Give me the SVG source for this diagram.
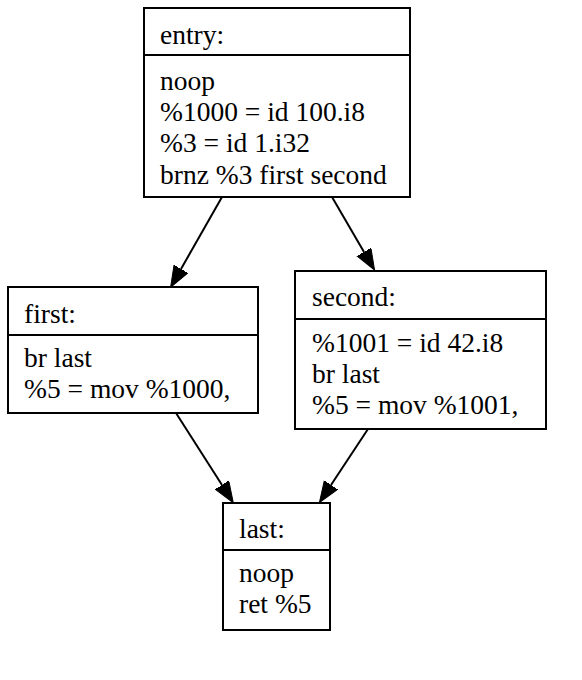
<svg xmlns="http://www.w3.org/2000/svg" width="582" height="680" viewBox="0 0 582 680">
<style>
.box{fill:#fff;stroke:#000;stroke-width:2}
.div{stroke:#000;stroke-width:2}
text{font-size:27.5px;fill:#000}
.edge{stroke:#000;stroke-width:2;fill:none}
</style>
<defs>
<marker id="arr" markerUnits="userSpaceOnUse" markerWidth="22" markerHeight="18" refX="0" refY="8" orient="auto" viewBox="0 0 22 18">
<path d="M0,0 L21,8 L0,16 z" fill="#000" stroke="#000" stroke-width="1"/>
</marker>
</defs>
<rect width="582" height="680" fill="#fff"/>
<g id="connectors">
<path class="edge" d="M222,197 L181,269" marker-end="url(#arr)"/>
<path class="edge" d="M332,197 L364,252" marker-end="url(#arr)"/>
<path class="edge" d="M176,413 L222,485" marker-end="url(#arr)"/>
<path class="edge" d="M368,429 L331,485" marker-end="url(#arr)"/>
</g>
<g font-family="Liberation Serif, Times New Roman, serif">
<g id="entry">
<rect class="box" x="144" y="8" width="266" height="189"/>
<line class="div" x1="144" y1="55" x2="410" y2="55"/>
<text x="160" y="44">entry:</text>
<text x="160" y="90">noop</text>
<text x="160" y="121">%1000 = id 100.i8</text>
<text x="160" y="152">%3 = id 1.i32</text>
<text x="160" y="184">brnz %3 first second</text>
</g>
<g id="first">
<rect class="box" x="8" y="287" width="250" height="126"/>
<line class="div" x1="8" y1="335" x2="258" y2="335"/>
<text x="24" y="323">first:</text>
<text x="24" y="367">br last</text>
<text x="24" y="398">%5 = mov %1000,</text>
</g>
<g id="second">
<rect class="box" x="295" y="271" width="251" height="158"/>
<line class="div" x1="295" y1="319" x2="546" y2="319"/>
<text x="312" y="306">second:</text>
<text x="312" y="352">%1001 = id 42.i8</text>
<text x="312" y="383">br last</text>
<text x="312" y="414">%5 = mov %1001,</text>
</g>
<g id="last">
<rect class="box" x="223" y="503" width="107" height="127"/>
<line class="div" x1="223" y1="550" x2="330" y2="550"/>
<text x="239" y="538">last:</text>
<text x="239" y="582">noop</text>
<text x="239" y="613">ret %5</text>
</g>
</g>
</svg>
